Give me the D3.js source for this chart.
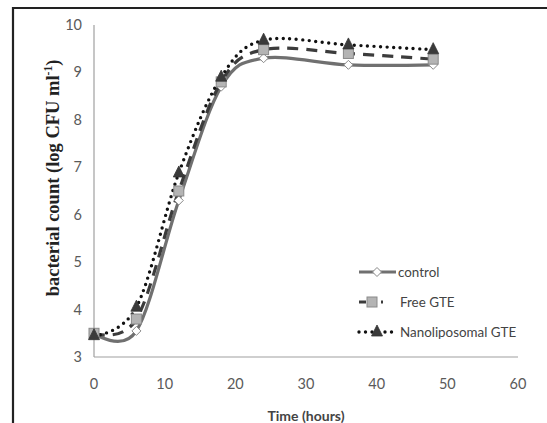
<!DOCTYPE html>
<html><head><meta charset="utf-8">
<script src="https://cdn.jsdelivr.net/npm/d3@7"></script>
<style>body{margin:0;background:#fff}svg{display:block}</style>
</head><body>
<svg id="c" width="547" height="423"></svg>
<script>
const hours = [0, 6, 12, 18, 24, 36, 48];
const control = [3.5, 3.55, 6.3, 8.7, 9.3, 9.16, 9.16];
const freeGTE = [3.5, 3.8, 6.5, 8.8, 9.48, 9.4, 9.28];
const nanoGTE = [3.45, 4.05, 6.88, 8.9, 9.68, 9.58, 9.48];
const seriesNames = ["control", "Free GTE", "Nanoliposomal GTE"];
const xTicks = [0, 10, 20, 30, 40, 50, 60];
const yTicks = [3, 4, 5, 6, 7, 8, 9, 10];

const svg = d3.select("#c");
svg.append("path").attr("d","M13,430 L13,8 L560,8").attr("fill","none").attr("stroke","#222").attr("stroke-width",2.2);

const x = d3.scaleLinear().domain([0,60]).range([94,518]);
const y = d3.scaleLinear().domain([3,10]).range([357,25]);

const font = "Lato, 'Liberation Sans', Arial, sans-serif";
svg.append("line").attr("x1",x(0)).attr("x2",x(0)).attr("y1",y(10)).attr("y2",y(3)).attr("stroke","#a0a0a0").attr("stroke-width",1.2);
svg.append("line").attr("x1",x(0)).attr("x2",x(60)).attr("y1",y(3)).attr("y2",y(3)).attr("stroke","#a0a0a0").attr("stroke-width",1.2);

svg.selectAll(".yt").data(yTicks).enter().append("text")
  .attr("x",82).attr("y",d=>y(d)+5).attr("text-anchor","end")
  .attr("font-family",font).attr("font-size",14.5).attr("fill","#5a5a5a").text(d=>d);
svg.selectAll(".xt").data(xTicks).enter().append("text")
  .attr("x",d=>x(d)).attr("y",389).attr("text-anchor","middle")
  .attr("font-family",font).attr("font-size",14.5).attr("fill","#5a5a5a").text(d=>d);

svg.append("text").attr("x",306).attr("y",421).attr("text-anchor","middle")
  .attr("font-family",font).attr("font-size",14).attr("font-weight","bold").attr("fill","#444").text("Time (hours)");

const yt = svg.append("text").attr("transform","translate(59,178) rotate(-90)").attr("text-anchor","middle")
  .attr("font-family","'Liberation Serif', 'Times New Roman', serif").attr("font-size",18.5).attr("font-weight","bold").attr("fill","#222");
yt.append("tspan").text("bacterial count (log CFU ml");
yt.append("tspan").attr("font-size",11.5).attr("dy",-7).text("-1");
yt.append("tspan").attr("dy",7).text(")");

const line = d3.line().x(d=>x(d[0])).y(d=>y(d[1])).curve(d3.curveCardinal.tension(0));
const series = [
  {name:seriesNames[0], vals:control, stroke:"#707070", dash:null, cap:"butt", w:3.2},
  {name:seriesNames[1], vals:freeGTE, stroke:"#3c3c3c", dash:"11,8", cap:"butt", w:3.2},
  {name:seriesNames[2], vals:nanoGTE, stroke:"#111", dash:"0,6.5", cap:"round", w:3.4}
];
series.forEach(s=>{
  const pts = hours.map((h,i)=>[h,s.vals[i]]);
  svg.append("path").datum(pts).attr("d",line).attr("fill","none")
    .attr("stroke",s.stroke).attr("stroke-width",s.w).attr("stroke-dasharray",s.dash).attr("stroke-linecap",s.cap);
});

function marker(g, kind, cx, cy){
  if(kind===0){
    g.append("path").attr("d",`M${cx},${cy-4.5}L${cx+4.5},${cy}L${cx},${cy+4.5}L${cx-4.5},${cy}Z`)
      .attr("fill","#fff").attr("stroke","#888").attr("stroke-width",1);
  } else if(kind===1){
    g.append("rect").attr("x",cx-5).attr("y",cy-5).attr("width",10).attr("height",10)
      .attr("fill","#b4b4b4").attr("stroke","#8a8a8a").attr("stroke-width",1);
  } else {
    g.append("path").attr("d",`M${cx},${cy-7}L${cx+5.5},${cy+4}L${cx-5.5},${cy+4}Z`)
      .attr("fill","#3a3a3a").attr("stroke","#333").attr("stroke-width",0.8);
  }
}
series.forEach((s,k)=>{
  const g = svg.append("g");
  hours.forEach((h,i)=>marker(g,k,x(h),y(s.vals[i])));
});

const ly = [272, 302, 332];
series.forEach((s,k)=>{
  const g = svg.append("g");
  const x1 = 359, x2 = k===1 ? 383 : 396;
  g.append("line").attr("x1",x1).attr("x2",x2).attr("y1",ly[k]).attr("y2",ly[k])
    .attr("stroke",s.stroke).attr("stroke-width",s.w).attr("stroke-dasharray",k===1?"7,4":s.dash).attr("stroke-linecap",s.cap);
  marker(g,k,k===1?372:377,ly[k]);
  g.append("text").attr("x",k===0?398:400).attr("y",ly[k]+5)
    .attr("font-family",font).attr("font-size",13.4).attr("fill","#444").text(s.name);
});
</script>
</body></html>
